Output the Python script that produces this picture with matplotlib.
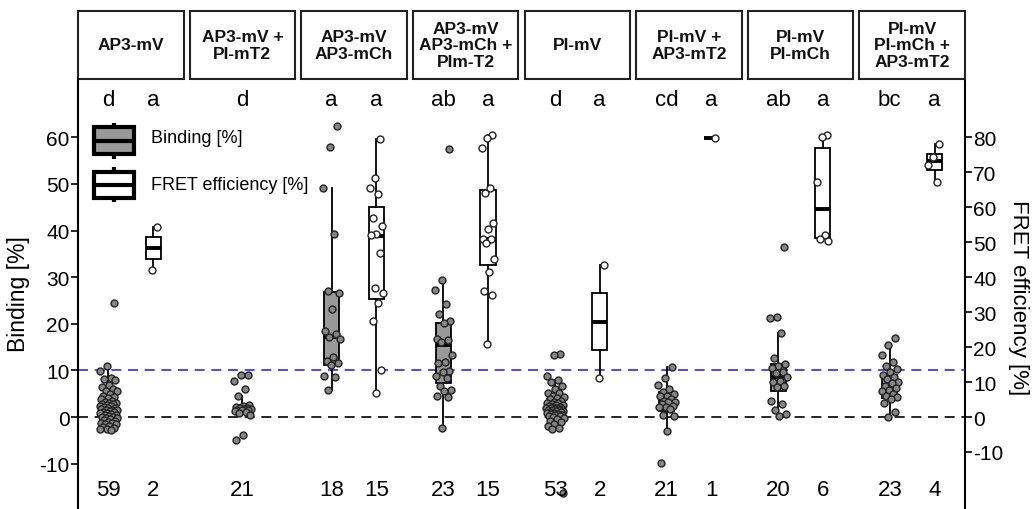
import numpy as np
import matplotlib.pyplot as plt
from matplotlib.patches import Rectangle
from matplotlib.transforms import blended_transform_factory

plt.rcParams['font.family'] = ['Liberation Sans', 'DejaVu Sans']
plt.rcParams['axes.unicode_minus'] = False

# facet strip titles
constructs = ["AP3-mV", "AP3-mV +\nPI-mT2", "AP3-mV\nAP3-mCh", "AP3-mV\nAP3-mCh +\nPIm-T2",
              "PI-mV", "PI-mV +\nAP3-mT2", "PI-mV\nPI-mCh", "PI-mV\nPI-mCh +\nAP3-mT2"]
bind_letters = ["d", "d", "a", "ab", "d", "cd", "ab", "bc"]
fret_letters = ["a", "", "a", "a", "a", "a", "a", "a"]
bind_n = ["59", "21", "18", "23", "53", "21", "20", "23"]
fret_n = ["2", "", "15", "15", "2", "1", "6", "4"]

# single measurements, Binding [%]
bind_g1 = [24.5, 10.9, 9.8, 8.4, 8.2, 7.9, 6.9, 6.5, 6.1, 5.6, 5.5, 5.0, 4.5, 4.2, 4.0, 3.8,
           3.5, 3.3, 3.1, 3.0, 2.8, 2.7, 2.5, 2.4, 2.3, 2.1, 2.0, 1.9, 1.8, 1.6, 1.5, 1.4,
           1.2, 1.1, 1.0, 0.9, 0.8, 0.6, 0.5, 0.4, 0.2, 0.1, 0.0, -0.2, -0.3, -0.5, -0.6,
           -0.8, -1.0, -1.2, -1.3, -1.5, -1.6, -2.0, -2.2, -2.3, -2.5, -2.6, -2.7]
bind_g2 = [9.1, 9.0, 7.8, 6.0, 4.6, 2.6, 2.4, 2.2, 2.0, 1.9, 1.8, 1.7, 1.6, 1.5, 1.4, 1.2,
           1.0, 0.9, 0.5, -3.9, -4.9]
bind_g3 = [62.5, 58.0, 49.1, 39.2, 27.0, 26.7, 23.2, 18.4, 17.8, 17.1, 16.7, 12.8, 12.1,
           11.6, 11.2, 8.9, 8.6, 5.8]
bind_g4 = [57.5, 29.5, 27.3, 24.2, 22.0, 20.5, 20.2, 16.7, 16.5, 16.0, 13.2, 11.7, 11.6,
           9.9, 9.6, 8.9, 8.4, 6.6, 5.9, 5.6, 4.6, 4.4, -2.4]
bind_g5 = [13.5, 13.4, 8.7, 8.0, 7.6, 6.7, 6.0, 5.2, 5.1, 4.6, 4.4, 4.0, 3.8, 3.4, 3.3, 3.1,
           3.0, 2.8, 2.6, 2.5, 2.3, 2.2, 2.1, 2.0, 1.9, 1.9, 1.8, 1.7, 1.6, 1.5, 1.4, 1.3,
           1.2, 1.1, 1.0, 0.9, 0.8, 0.7, 0.6, 0.5, 0.4, 0.3, 0.2, 0.0, -0.2, -0.5, -0.8,
           -1.1, -1.6, -1.9, -2.3, -2.6, -16.2]
bind_g6 = [10.7, 8.3, 6.9, 6.0, 5.4, 5.0, 4.6, 4.5, 3.9, 3.5, 3.3, 3.2, 2.8, 2.4, 2.2, 2.1,
           1.7, 0.4, 0.2, -2.9, -9.9]
bind_g7 = [36.4, 21.4, 21.3, 18.0, 12.6, 11.4, 11.0, 10.5, 9.6, 9.4, 8.5, 7.8, 7.6, 6.7,
           6.5, 3.5, 2.8, 1.5, 0.6, 0.3]
bind_g8 = [16.9, 15.5, 13.2, 11.7, 11.0, 10.3, 9.7, 9.0, 8.5, 8.2, 7.6, 7.2, 6.7, 6.3, 5.9,
           5.5, 4.9, 4.6, 4.2, 3.9, 2.9, 1.0, 0.1]

# single measurements, FRET efficiency [%]
fret_g1 = [54.5, 42.1]
fret_g3 = [79.4, 68.5, 65.4, 63.9, 56.8, 54.7, 52.3, 52.0, 47.0, 36.8, 35.6, 32.5, 27.5,
           13.4, 6.9]
fret_g4 = [80.6, 79.7, 77.0, 65.6, 64.0, 55.4, 53.7, 51.0, 50.9, 49.9, 45.1, 41.6, 36.1,
           34.9, 21.0]
fret_g5 = [43.5, 11.1]
fret_g6 = [79.9]
fret_g7 = [80.6, 80.0, 67.2, 52.0, 51.0, 50.5]
fret_g8 = [78.0, 74.4, 72.0, 67.2]

# box statistics
bind_q1 = [0.3, 1.2, 11.1, 7.4, 0.8, 1.2, 5.6, 4.0]
bind_med = [2.0, 1.8, 17.2, 15.5, 1.9, 3.4, 8.6, 6.7]
bind_q3 = [4.6, 2.6, 26.9, 20.2, 3.8, 5.3, 11.4, 9.1]
bind_lo = [-2.7, 0.5, 5.8, -2.3, -2.6, -2.9, 0.3, 0.1]
bind_hi = [10.9, 4.6, 49.1, 29.5, 8.0, 10.7, 18.0, 15.5]

fret_q1 = [45.2, None, 33.7, 43.5, 19.2, 79.9, 51.2, 70.7]
fret_med = [48.3, None, 51.9, 50.9, 27.3, 79.9, 59.6, 73.2]
fret_q3 = [51.4, None, 60.2, 64.9, 35.4, 79.9, 76.9, 75.3]
fret_lo = [42.1, None, 6.9, 21.0, 11.1, 79.9, 50.5, 67.2]
fret_hi = [54.5, None, 79.4, 80.6, 43.5, 79.9, 80.6, 78.0]

bind_sets = [bind_g1, bind_g2, bind_g3, bind_g4, bind_g5, bind_g6, bind_g7, bind_g8]
fret_sets = [fret_g1, None, fret_g3, fret_g4, fret_g5, fret_g6, fret_g7, fret_g8]

fret_scale = 0.75  # FRET plotted on binding scale
pitch_gap = 0.054
offset = 0.2
box_w = 0.135


def jitter(n, w=0.08):
    k = np.arange(n)
    return ((k * 0.618034 + 0.8) % 1.0 - 0.5) * 2 * w


fig = plt.figure(figsize=(10.32, 5.10), dpi=100)
ax = fig.add_axes([78 / 1032, 0.0, (965 - 78) / 1032, 430 / 510])
ax.set_xlim(0, 8 - pitch_gap)
ax.set_ylim(-19.74, 72.53)

ax.axhline(10, color='#2a2aff', ls=(0, (6, 4)), lw=1.2, zorder=1)
ax.axhline(0, color='black', ls=(0, (6, 4)), lw=1.2, zorder=1)

centers = np.arange(8) + (1 - pitch_gap) / 2
bstats, bpos, fstats, fpos = [], [], [], []
for i in range(8):
    xb = centers[i] if fret_sets[i] is None else centers[i] - offset
    bpos.append(xb)
    bstats.append(dict(med=bind_med[i], q1=bind_q1[i], q3=bind_q3[i],
                       whislo=bind_lo[i], whishi=bind_hi[i], fliers=[]))
    if fret_sets[i] is not None:
        fpos.append(centers[i] + offset)
        fstats.append(dict(med=fret_med[i] * fret_scale, q1=fret_q1[i] * fret_scale,
                           q3=fret_q3[i] * fret_scale, whislo=fret_lo[i] * fret_scale,
                           whishi=fret_hi[i] * fret_scale, fliers=[]))

common = dict(widths=box_w, patch_artist=True, showfliers=False, showcaps=False,
              manage_ticks=False, zorder=2,
              whiskerprops=dict(color='black', lw=1.3),
              medianprops=dict(color='black', lw=2.8, solid_capstyle='butt'))
ax.bxp(bstats, positions=bpos, boxprops=dict(facecolor='#999999', edgecolor='black', lw=1.3), **common)
ax.bxp(fstats, positions=fpos, boxprops=dict(facecolor='white', edgecolor='black', lw=1.3), **common)

for i in range(8):
    vals = np.array(bind_sets[i])
    ax.plot(bpos[i] + jitter(len(vals)), vals, 'o', ms=5.0, mfc='#858585', mec='#222222',
            mew=1.0, zorder=3, clip_on=False)
fi = 0
for i in range(8):
    if fret_sets[i] is None:
        continue
    vals = np.array(fret_sets[i]) * fret_scale
    ax.plot(fpos[fi] + jitter(len(vals), 0.06), vals, 'o', ms=5.0, mfc='white', mec='#222222',
            mew=1.0, zorder=3, clip_on=False)
    fi += 1

# letters and counts
for i in range(8):
    ax.text(bpos[i], 68.2, bind_letters[i], ha='center', va='center', fontsize=16)
    ax.text(bpos[i], -15.5, bind_n[i], ha='center', va='center', fontsize=16)
    if fret_sets[i] is not None:
        ax.text(centers[i] + offset, 68.2, fret_letters[i], ha='center', va='center', fontsize=16)
        ax.text(centers[i] + offset, -15.5, fret_n[i], ha='center', va='center', fontsize=16)

# legend glyphs
gx0, gx1 = 0.144, 0.505
gmid = (gx0 + gx1) / 2
for fc, lo, hi, q1, q3, med, label, ty in [('#999999', 55.4, 63.1, 56.4, 62.2, 59.3, 'Binding [%]', 60),
                                            ('white', 46.1, 53.6, 47.0, 52.6, 49.8, 'FRET efficiency [%]', 49.8)]:
    ax.add_patch(Rectangle((gx0, q1), gx1 - gx0, q3 - q1, fc=fc, ec='black', lw=3, zorder=4))
    ax.plot([gx0, gx1], [med, med], color='black', lw=3, zorder=5, solid_capstyle='butt')
    ax.plot([gmid, gmid], [lo, q1], color='black', lw=3, zorder=4, solid_capstyle='butt')
    ax.plot([gmid, gmid], [q3, hi], color='black', lw=3, zorder=4, solid_capstyle='butt')
    ax.text(0.655, ty, label, ha='left', va='center', fontsize=13)

# facet strips
tr = blended_transform_factory(ax.transData, ax.transAxes)
for i in range(8):
    ax.add_patch(Rectangle((i, 1.0), 1 - pitch_gap, 68 / 430, transform=tr, fc='white',
                           ec='#222222', lw=1.5, clip_on=False))
    ax.text(centers[i], 1.0 + 34 / 430, constructs[i], transform=tr, ha='center', va='center',
            fontsize=12.5, fontweight='bold', linespacing=1.12, color='#111111')

for s in ['top', 'bottom', 'right']:
    ax.spines[s].set_visible(False)
ax.spines['left'].set_linewidth(1.5)
ax.set_xticks([])
ax.set_yticks([-10, 0, 10, 20, 30, 40, 50, 60])
ax.tick_params(axis='y', labelsize=15, length=5, width=1.2, pad=1)

sec = ax.secondary_yaxis('right', functions=(lambda b: b / fret_scale, lambda f: f * fret_scale))
sec.set_yticks([-10, 0, 10, 20, 30, 40, 50, 60, 70, 80])
sec.tick_params(axis='y', labelsize=15, length=5, width=1.2, pad=1)
sec.spines['right'].set_linewidth(1.5)

fig.text(19 / 1032, 1 - 294 / 510, 'Binding [%]', rotation=90, ha='center', va='center', fontsize=16.5)
fig.text(1018 / 1032, 1 - 298 / 510, 'FRET efficiency [%]', rotation=270, ha='center', va='center',
         fontsize=16)

fig.savefig('out.png', dpi=100)
